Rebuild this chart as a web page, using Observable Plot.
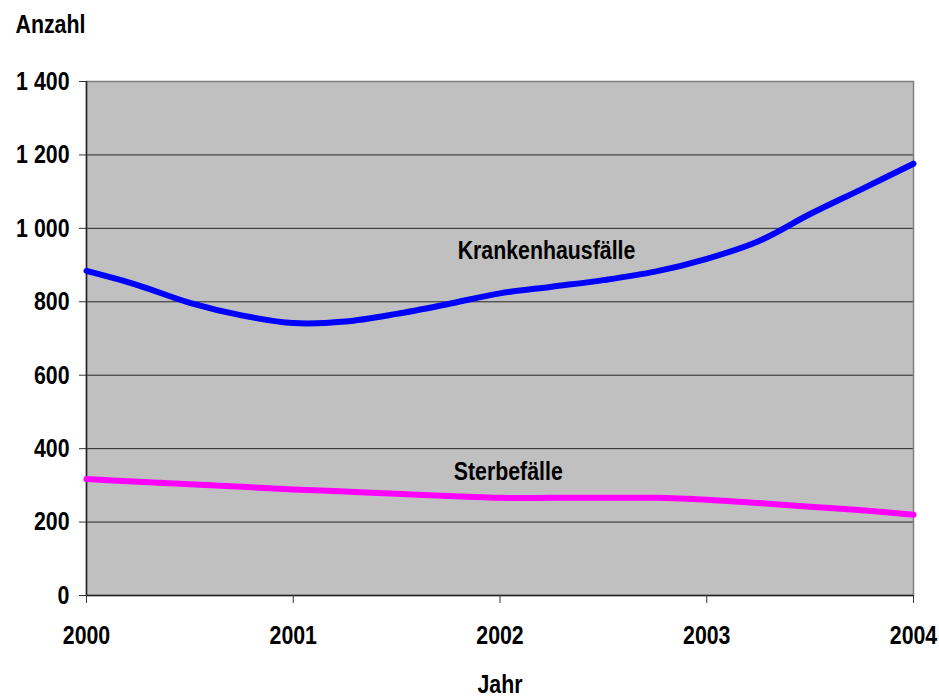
<!DOCTYPE html>
<html>
<head>
<meta charset="utf-8">
<script src="https://cdn.jsdelivr.net/npm/d3@7"></script>
<script src="https://cdn.jsdelivr.net/npm/@observablehq/plot@0.6"></script>
<style>
  html, body { margin: 0; padding: 0; background: #fff; }
  #chart svg { display: block; }
</style>
</head>
<body>
<div id="chart"></div>
<script>
// Data (quarterly positions, in years)
const years = [2000, 2000.25, 2000.5, 2000.75, 2001, 2001.25, 2001.5, 2001.75, 2002,
               2002.25, 2002.5, 2002.75, 2003, 2003.25, 2003.5, 2003.75, 2004];
const krankenhausfaelle = [884, 845, 797, 763, 742, 746, 767, 794, 823,
                           841, 859, 882, 917, 965, 1039, 1107, 1176];
const sterbefaelle = [317, 310, 303, 296, 289, 283, 277, 271, 266,
                      266, 266, 266, 261, 252, 242, 232, 220];
const xTicks = [2000, 2001, 2002, 2003, 2004];
const yTicks = [0, 200, 400, 600, 800, 1000, 1200, 1400];
const seriesLabels = ["Krankenhausfälle", "Sterbefälle"];
const seriesLabelX = [2002.225, 2002.04];
const seriesLabelY = [940, 338];
const yTitle = "Anzahl";
const xTitle = "Jahr";

const kh = years.map((t, i) => ({t, v: krankenhausfaelle[i]}));
const st = years.map((t, i) => ({t, v: sterbefaelle[i]}));
const labels = seriesLabels.map((name, i) => ({name, t: seriesLabelX[i], v: seriesLabelY[i]}));

const font = "'Liberation Sans', Arial, sans-serif";
const fmtY = d3.formatLocale({thousands: " ", grouping: [3], decimal: ","}).format(",");

const chart = Plot.plot({
  width: 939,
  height: 698,
  marginLeft: 86,
  marginRight: 26,
  marginTop: 81,
  marginBottom: 103,
  style: {fontFamily: font, fontSize: "26px", fontWeight: "bold", color: "#000", background: "#fff"},
  x: {domain: [2000, 2004]},
  y: {domain: [0, 1400]},
  marks: [
    Plot.frame({fill: "#c0c0c0", stroke: null}),
    Plot.gridY(yTicks.filter(d => d > 0 && d < 1400), {stroke: "#000", strokeOpacity: 0.8, strokeWidth: 1}),
    Plot.frame({stroke: "#808080", strokeWidth: 1.5}),
    Plot.ruleY([0], {stroke: "#222", strokeWidth: 1.5}),
    Plot.ruleX([2000], {stroke: "#222", strokeWidth: 1.5}),
    Plot.axisY(yTicks, {
      tickSize: 7, tickPadding: 10, tickFormat: fmtY, label: null,
      fontSize: 26, fontWeight: "bold", stroke: "#333", fill: "#000"
    }),
    Plot.axisX(xTicks, {
      tickSize: 8, tickPadding: 22, tickFormat: d => String(d), label: null,
      fontSize: 26, fontWeight: "bold", stroke: "#333", fill: "#000"
    }),
    Plot.line(kh, {x: "t", y: "v", stroke: "#0000ff", strokeWidth: 6, curve: "catmull-rom", strokeLinecap: "round", strokeLinejoin: "round"}),
    Plot.line(st, {x: "t", y: "v", stroke: "#ff00ff", strokeWidth: 6, curve: "catmull-rom", strokeLinecap: "round", strokeLinejoin: "round"}),
    Plot.text(labels, {x: "t", y: "v", text: "name", fontSize: 26, fontWeight: "bold", fill: "#000", textAnchor: "middle"}),
    Plot.text([yTitle], {frameAnchor: "top-left", textAnchor: "start", lineAnchor: "bottom", dx: -71, dy: -49, fontSize: 26, fontWeight: "bold", fill: "#000"}),
    Plot.text([xTitle], {x: [2002], frameAnchor: "bottom", textAnchor: "middle", lineAnchor: "bottom", dy: 97, fontSize: 26, fontWeight: "bold", fill: "#000"})
  ]
});
document.getElementById("chart").appendChild(chart);

// Condense the text horizontally (narrow bold face look of the reference)
chart.querySelectorAll("text").forEach(t => {
  const w = t.getComputedTextLength();
  if (w > 0) {
    t.setAttribute("textLength", (w * 0.82).toFixed(1));
    t.setAttribute("lengthAdjust", "spacingAndGlyphs");
  }
});
</script>
</body>
</html>
